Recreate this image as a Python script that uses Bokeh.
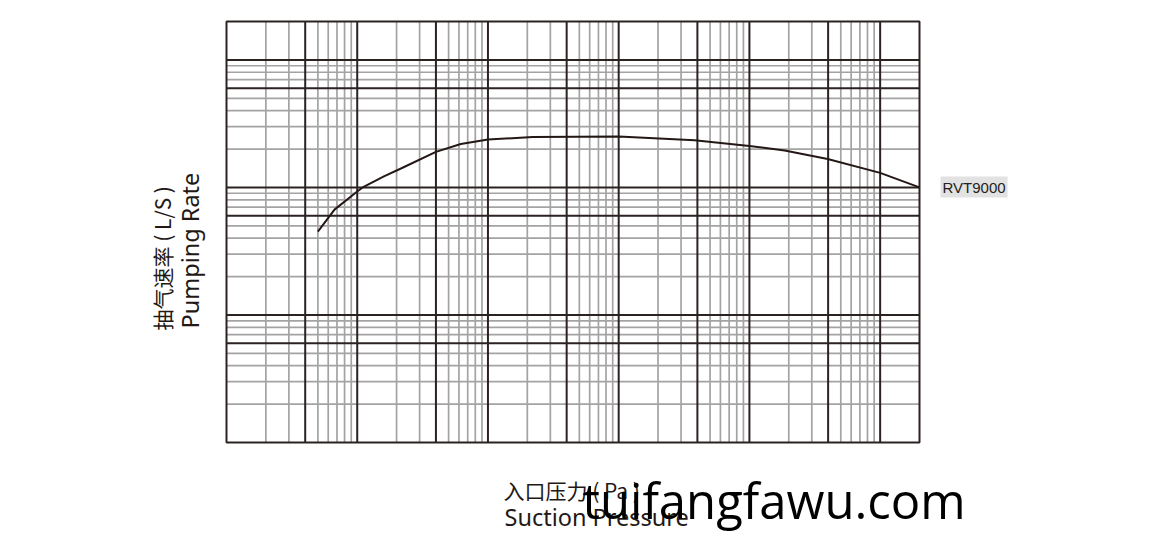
import math

from bokeh.plotting import figure
from bokeh.models import Label
from bokeh.embed import file_html
from bokeh.resources import INLINE

# curve: suction pressure (Pa) vs pumping rate (L/S)
pressure = [0.5, 0.67, 1.0, 1.1, 1.6, 2.2, 4.0, 6.2, 10, 22, 100, 380, 1000, 1860, 3970, 10000, 20000]
rate = [450, 670, 930, 1000, 1220, 1420, 1900, 2190, 2375, 2480, 2505, 2345, 2115, 1945, 1670, 1300, 1000]

# log grid layout
x_decades = [0.1, 1, 10, 100, 1000]
y_decades = [10, 100, 1000]
x_dark_mult = [4, 10]
y_dark_mult = [6, 10]
x_gray_mult = [2, 3, 5, 6, 7, 8, 9]
y_gray_mult = [2, 3, 4, 5, 7, 8, 9]

x_major = [d * m for d in x_decades for m in x_dark_mult]
x_minor = [d * m for d in x_decades for m in x_gray_mult]
y_major = [d * m for d in y_decades for m in y_dark_mult]
y_minor = [d * m for d in y_decades for m in y_gray_mult]

# chart area
X0, X1 = 0.1, 20000
Y0, Y1 = 10, 20000

DARK = "#2b2222"
GRAY = "#a3a3a3"
INK = "#231815"

# the frame fills the whole canvas so the texts around the grid are not clipped;
# the grid box sits at these pixel positions inside it
W, H = 1150, 545
GL, GR, GT, GB = 226, 919, 21, 442
kx = (math.log10(X1) - math.log10(X0)) / (GR - GL)
ky = (math.log10(Y1) - math.log10(Y0)) / (GB - GT)
x_range = (10 ** (math.log10(X0) - GL * kx), 10 ** (math.log10(X1) + (W - GR) * kx))
y_range = (10 ** (math.log10(Y0) - (H - GB) * ky), 10 ** (math.log10(Y1) + GT * ky))

p = figure(width=W, height=H, x_axis_type="log", y_axis_type="log",
           x_range=x_range, y_range=y_range, min_border=0,
           tools="", toolbar_location=None, output_backend="svg")
p.xaxis.visible = False
p.yaxis.visible = False
p.grid.visible = False
p.outline_line_color = None

# gray lines
p.segment(x_minor, [Y0] * len(x_minor), x_minor, [Y1] * len(x_minor),
          line_color=GRAY, line_width=1.7)
p.segment([X0] * len(y_minor), y_minor, [X1] * len(y_minor), y_minor,
          line_color=GRAY, line_width=1.7)
# dark lines
p.segment(x_major, [Y0] * len(x_major), x_major, [Y1] * len(x_major),
          line_color=DARK, line_width=2)
p.segment([X0] * len(y_major), y_major, [X1] * len(y_major), y_major,
          line_color=DARK, line_width=2)
# border
p.quad(left=[X0], right=[X1], bottom=[Y0], top=[Y1],
       fill_color=None, line_color=DARK, line_width=2)

p.line(pressure, rate, line_color=INK, line_width=2)


def label(px, py, text, font, size, **kw):
    # px, py: page pixels from the top-left corner
    p.add_layout(Label(x=px, y=H - py, x_units="screen", y_units="screen",
                       text=text, text_font=font, text_font_size=size, **kw))


cjk = "Noto Sans CJK SC"
latin = "Noto Sans"

label(161, 330, "抽气速率 ( L/S )", cjk, "21px", angle=math.pi / 2,
      text_color=INK, text_align="left", text_baseline="middle")
label(189, 328, "Pumping Rate", latin, "23.5px", angle=math.pi / 2,
      text_color=INK, text_align="left", text_baseline="alphabetic")

label(503, 489, "入口压力 ( Pa )", cjk, "21px",
      text_color=INK, text_align="left", text_baseline="middle")
label(504, 516, "Suction Pressure", latin, "23.5px",
      text_color=INK, text_align="left", text_baseline="alphabetic")

label(940, 186.5, "RVT9000", "Liberation Sans", "15px",
      text_color="#222222", text_align="left", text_baseline="middle",
      background_fill_color="#e2e2e2", padding=2)

label(582, 499.5, "tuifangfawu.com", "Open Sans", "49px",
      text_color="black", text_align="left", text_baseline="alphabetic")

open("out.html", "w").write(file_html(p, INLINE))
